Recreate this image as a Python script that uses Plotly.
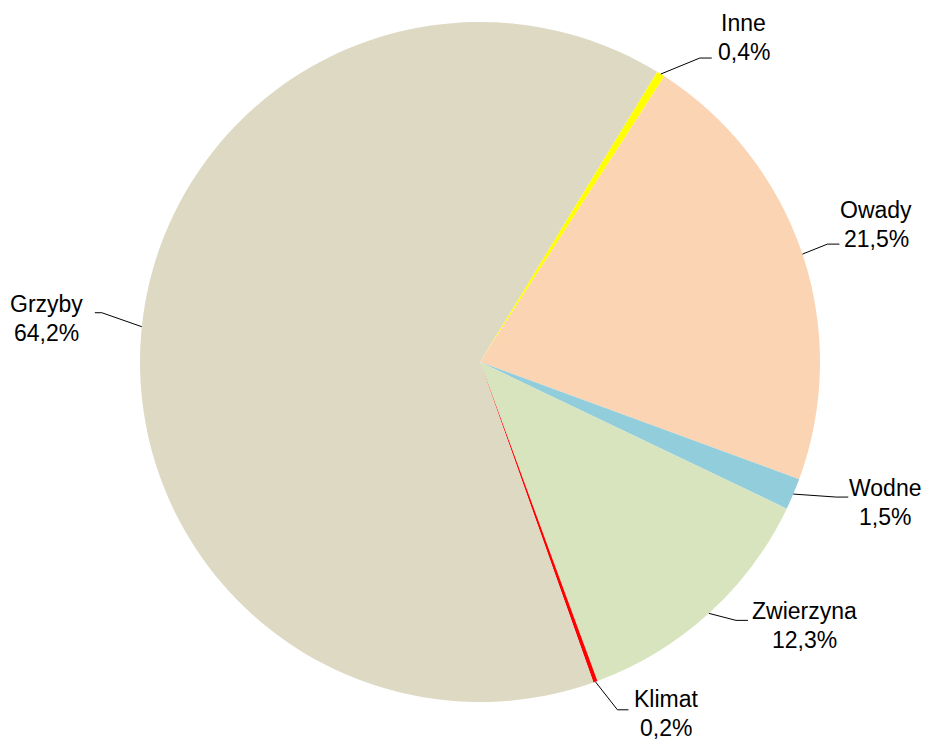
import math
import plotly.graph_objects as go

# ---- data ----
categories = ["Inne", "Owady", "Wodne", "Zwierzyna", "Klimat", "Grzyby"]
values = [0.4, 21.5, 1.5, 12.3, 0.2, 64.2]
value_labels = ["0,4%", "21,5%", "1,5%", "12,3%", "0,2%", "64,2%"]
colors = ["#FFFF00", "#FBD4B4", "#92CDDC", "#D7E4BD", "#FF0000", "#DDD9C3"]

# ---- layout (screen pixels; page body has an 8px margin) ----
W, H = 930, 740
OFF = 8
SCX, SCY, R = 480, 362, 340          # pie centre / radius on screen
ML = SCX - OFF - R
MT = SCY - OFF - R
MR = W - ML - 2 * R
MB = H - MT - 2 * R
ROTATION = 31.4
FONT = 23
LINE_GAP = 29

# label layout offsets relative to slice edge point (px): elbow, tail, first-line centre
label_layout = [
    dict(elbow=(39, -16), tail=12, text=(83, -51)),
    dict(elbow=(25, -10), tail=12, text=(74, -44)),
    dict(elbow=(43, 3), tail=12, text=(92, -6)),
    dict(elbow=(27, 7), tail=12, text=(96, -2)),
    dict(elbow=(22, 28), tail=11, text=(71, 17)),
    dict(elbow=(-40, -14), tail=-7, text=(-95, -23)),
]


def px_to_paper(x, y):
    x, y = x - OFF, y - OFF
    return (x - ML) / (W - ML - MR), 1 - (y - MT) / (H - MT - MB)


fig = go.Figure(go.Pie(
    labels=categories,
    values=values,
    sort=False,
    direction="clockwise",
    rotation=ROTATION,
    marker=dict(colors=colors, line=dict(width=0)),
    textinfo="none",
    hoverinfo="label+percent",
    showlegend=False,
))

total = sum(values)
cum = 0.0
shapes, annotations = [], []
for cat, v, vl, lay in zip(categories, values, value_labels, label_layout):
    mid = ROTATION + (cum + v / 2) / total * 360
    cum += v
    a = math.radians(mid)
    ex, ey = SCX + R * math.sin(a), SCY - R * math.cos(a)
    bx, by = ex + lay["elbow"][0], ey + lay["elbow"][1]
    tx = bx + lay["tail"]
    pts = [(ex, ey), (bx, by), (tx, by)]
    for (x0, y0), (x1, y1) in zip(pts[:-1], pts[1:]):
        p0, p1 = px_to_paper(x0, y0), px_to_paper(x1, y1)
        shapes.append(dict(type="line", xref="paper", yref="paper",
                           x0=p0[0], y0=p0[1], x1=p1[0], y1=p1[1],
                           line=dict(color="black", width=1)))
    for i, txt in enumerate([cat, vl]):
        px_, py_ = px_to_paper(ex + lay["text"][0], ey + lay["text"][1] + i * LINE_GAP)
        annotations.append(dict(xref="paper", yref="paper", x=px_, y=py_,
                                xanchor="center", yanchor="middle",
                                text=txt, showarrow=False,
                                font=dict(family="Liberation Sans, Arial", size=FONT, color="black")))

fig.update_layout(
    width=W, height=H,
    margin=dict(l=ML, r=MR, t=MT, b=MB),
    paper_bgcolor="white",
    plot_bgcolor="white",
    shapes=shapes,
    annotations=annotations,
)

fig.write_html("out.html")
